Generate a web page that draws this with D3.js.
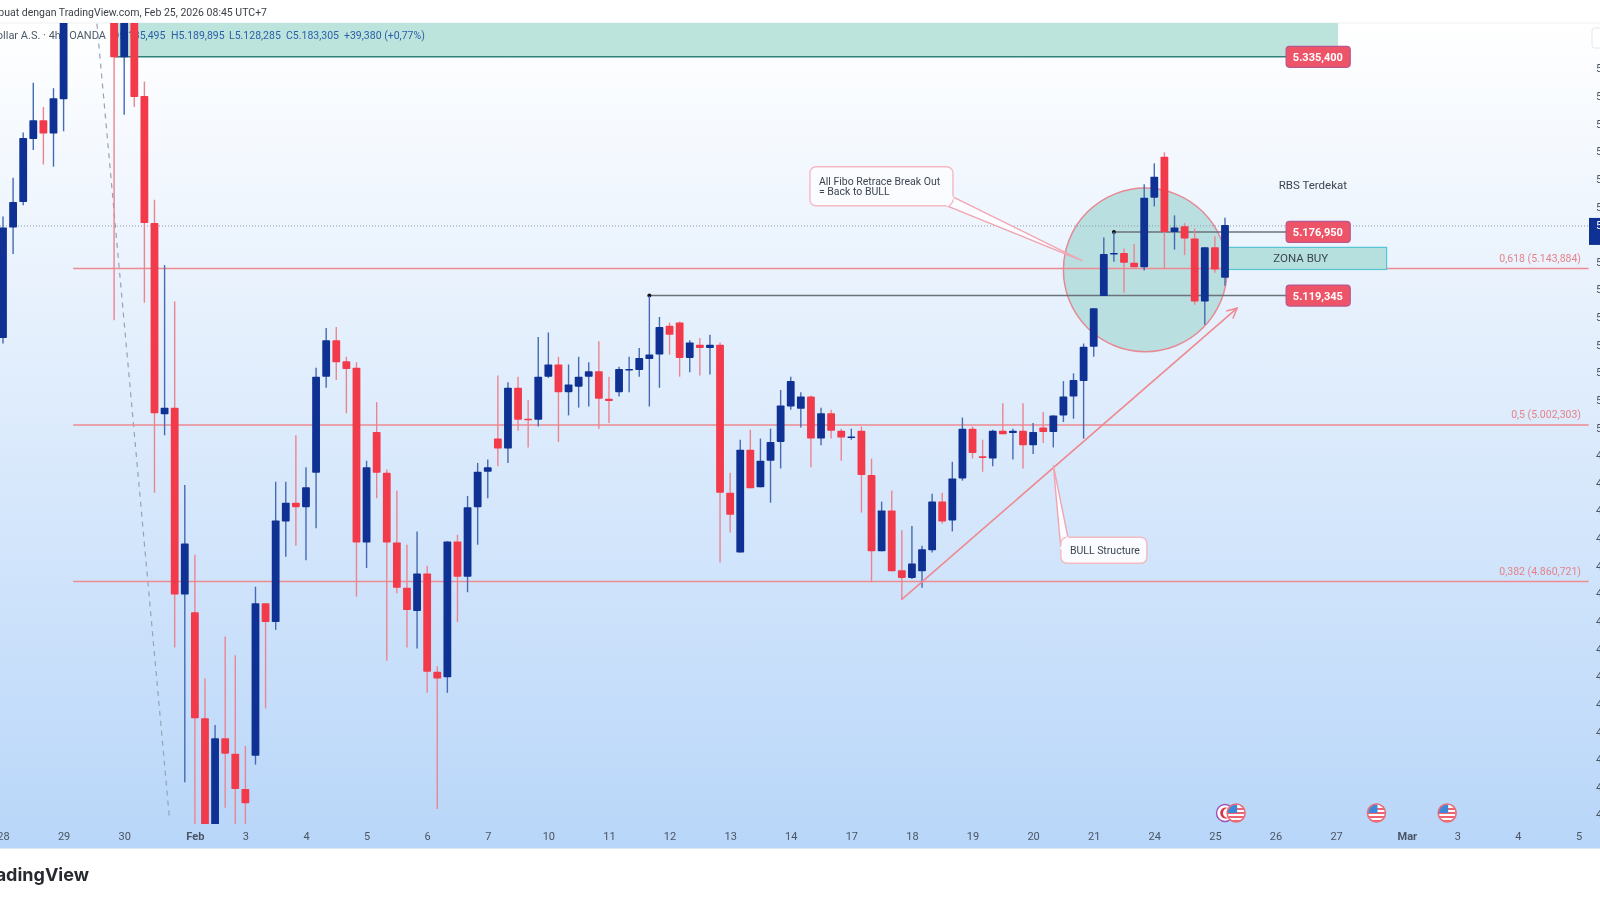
<!DOCTYPE html>
<html>
<head>
<meta charset="utf-8">
<title>Emas / Dollar A.S. 4h</title>
<script src="https://cdn.jsdelivr.net/npm/d3@7"></script>
<style>
html, body { margin: 0; padding: 0; background: #fff; overflow: hidden; }
svg { display: block; font-family: Roboto, "Open Sans", sans-serif; filter: blur(0.4px); }
</style>
</head>
<body>
<div id="app"></div>
<script>
// 4h candles, one entry per bar. Bars 7-10 sit above the visible range.
const opens = [5081,5181,5204,5261,5278,5266,5297,5405,5450,5428,5459,5396,5335,5396,5300,5185,5012,5018,4849,4833,4737,4635,4719,4705,4673,4703,4841,4824,4915,4932,4928,4959,5046,5079,5060,5054,4896,4996,4959,4896,4855,4834,4868,4779,4774,4897,4865,4928,4960,4990,4981,5036,5008,5007,5046,5057,5032,5037,5046,5051,5026,5032,5052,5052,5062,5066,5092,5095,5063,5075,5072,5075,4941,4887,4980,4946,4970,4987,5019,5017,5028,4990,5013,4997,4991,4997,4957,4888,4925,4871,4864,4870,4889,4933,4916,4954,4999,4974,4972,4997,4995,4997,4984,5000,4996,5011,5028,5042,5073,5119,5157,5158,5149,5145,5208,5245,5177,5182,5171,5114,5163,5135.495];
const highs = [5191,5226,5267,5312,5290,5307,5414,5464,5473,5480,5470,5410,5405,5401,5313,5206,5147,5114,4948,4885,4773,4731,4811,4794,4712,4856,4841,4951,4951,4993,4964,5054,5090,5091,5064,5059,4970,5023,4962,4943,4894,4906,4875,4784,4897,4903,4938,4968,4971,5047,5041,5046,5025,5082,5086,5064,5057,5064,5059,5078,5046,5055,5064,5072,5119,5100,5095,5096,5079,5081,5084,5077,4959,4989,4998,4990,4999,5034,5046,5032,5029,5018,5016,4999,4999,5001,4972,4933,4943,4907,4911,4893,4940,4941,4969,5009,5001,4989,4998,5022,4999,5022,5004,5014,5011,5042,5049,5076,5108,5172,5177,5162,5166,5220,5239,5249,5192,5185,5180,5163,5173,5189.895];
const lows = [5076,5157,5201,5251,5238,5236,5268,5396,5414,5415,5390,5097,5283,5290,5113,4941,4993,4801,4679,4635,4631,4631,4656,4635,4635,4695,4746,4817,4883,4893,4880,4909,5036,5043,5013,4847,4873,4936,4789,4850,4801,4800,4760,4655,4760,4824,4851,4894,4936,4965,4968,4997,4982,5001,5045,4987,5011,5018,5019,4999,5004,5028,5032,5046,5019,5036,5066,5046,5050,5047,5048,4878,4905,4887,4945,4946,4932,4963,5016,5000,4964,4984,4990,4970,4989,4923,4860,4888,4870,4844,4863,4855,4887,4913,4906,4952,4972,4960,4965,4994,4971,4963,4976,4986,4982,5005,5008,4990,5064,5119,5150,5122,5145,5142,5200,5144,5161,5156,5111,5093,5140,5128.285];
const closes = [5181,5204,5262,5278,5266,5298,5405,5450,5428,5459,5401,5335,5396,5299,5185,5013,5018,4849,4895,4737,4635,4719,4705,4673,4660,4841,4824,4916,4932,4928,4946,5046,5079,5059,5053,4896,4964,4959,4896,4855,4835,4868,4779,4773,4897,4865,4928,4960,4964,4981,5036,5007,5007,5046,5057,5032,5039,5046,5051,5026,5024,5053,5053,5063,5066,5091,5084,5063,5077,5072,5075,4941,4921,4980,4945,4970,4987,5020,5042,5028,4990,5013,4997,4991,4992,4957,4888,4925,4870,4864,4877,4890,4933,4915,4954,4999,4977,4973,4997,4994,4997,4984,4996,4996,5011,5028,5043,5073,5108,5157,5158,5149,5145,5208,5227,5177,5181,5171,5114,5163,5143,5183.305];

// Time axis, labelled every 6 bars
const tickBars = [0,6,12,19,24,30,36,42,48,54,60,66,72,78,84,90,96,102,108,114,120,126,132,139,144,150,156];
const tickLabels = ["28","29","30","Feb","3","4","5","6","7","10","11","12","13","14","17","18","19","20","21","24","25","26","27","Mar","3","4","5"];
const boldTicks = ["Feb", "Mar"];

// Price axis
const priceTicks = [4650,4675,4700,4725,4750,4775,4800,4825,4850,4875,4900,4925,4950,4975,5000,5025,5050,5075,5100,5125,5150,5200,5225,5250,5275,5300,5325];

// Fibo levels
const fibRatios = ["0,618", "0,5", "0,382"];
const fibPrices = [5143.884, 5002.303, 4860.721];

// Drawings, in bar index and price
const swingLevels = [5335.4, 5176.95, 5119.345];
const swingStartBars = [11, 110, 64];
const trendBars = [89, 122.2];
const trendPrices = [4844.6, 5108];
const fibTrendBars = [9.3, 16.5];
const fibTrendPrices = [5365.3, 4644.4];
const eventBars = [122.1, 136, 143];

const legendParts = ["O5.135,495", "H5.189,895", "L5.128,285", "C5.183,305", "+39,380 (+0,77%)"];
const legendX = [112, 171, 229, 286, 344];

const width = 1600;
const height = 900;
const plotTop = 23;
const plotBottom = 848;
const candleBottom = 824;

const x = d3.scaleLinear().domain([0, 121]).range([3, 1225]);
const y = d3.scaleLinear().domain([5143.884, 4860.721]).range([268.5, 581.5]);

const locale = d3.formatLocale({ decimal: ",", thousands: ".", grouping: [3], currency: ["", ""] });
const fmtPrice = locale.format(",.3f");

const blue = "#0f3193";
const red = "#f23a4b";
const pink = "#ee8a90";
const textGrey = "#4a5563";

const svg = d3.select("#app").append("svg")
    .attr("width", width)
    .attr("height", height)
    .attr("viewBox", [0, 0, width, height]);

const defs = svg.append("defs");

const grad = defs.append("linearGradient")
    .attr("id", "bg")
    .attr("x1", 0).attr("y1", 0).attr("x2", 0).attr("y2", 1);
grad.append("stop").attr("offset", "0%").attr("stop-color", "#ffffff");
grad.append("stop").attr("offset", "100%").attr("stop-color", "#b8d6f9");

defs.append("clipPath").attr("id", "candleClip")
    .append("rect")
    .attr("x", 0).attr("y", plotTop)
    .attr("width", 1589).attr("height", candleBottom - plotTop);

defs.append("marker")
    .attr("id", "arrow")
    .attr("viewBox", "-12 -7 14 14")
    .attr("refX", 0)
    .attr("refY", 0)
    .attr("markerUnits", "userSpaceOnUse")
    .attr("markerWidth", 14)
    .attr("markerHeight", 14)
    .attr("orient", "auto")
    .append("path")
    .attr("d", "M-10,-5L0,0L-10,5")
    .attr("fill", "none")
    .attr("stroke", pink)
    .attr("stroke-width", 1.5);

// --- Background ---

svg.append("rect")
    .attr("x", 0).attr("y", plotTop)
    .attr("width", width).attr("height", plotBottom - plotTop)
    .attr("fill", "url(#bg)");

svg.append("line")
    .attr("x1", 0).attr("x2", width)
    .attr("y1", plotTop).attr("y2", plotTop)
    .attr("stroke", "#eceff3");

// --- Resistance box at the top ---

svg.append("rect")
    .attr("x", x(11)).attr("y", plotTop)
    .attr("width", x(132.2) - x(11))
    .attr("height", y(swingLevels[0]) - plotTop)
    .attr("fill", "#bce3dc");

svg.append("line")
    .attr("x1", x(11)).attr("x2", x(132.2))
    .attr("y1", y(swingLevels[0])).attr("y2", y(swingLevels[0]))
    .attr("stroke", "#2f7f7a")
    .attr("stroke-width", 1.5);

// --- Header and legend ---

svg.append("text")
    .attr("x", 267).attr("y", 16)
    .attr("text-anchor", "end")
    .attr("font-size", 10.5)
    .attr("fill", "#3a3f47")
    .text("Dibuat dengan TradingView.com, Feb 25, 2026 08:45 UTC+7");

svg.append("text")
    .attr("x", 106).attr("y", 39)
    .attr("text-anchor", "end")
    .attr("font-size", 11)
    .attr("fill", "#4d5a68")
    .text("Emas / Dollar A.S. · 4h · OANDA");

svg.append("g").selectAll("text")
    .data(legendParts)
    .join("text")
    .attr("x", (d, i) => legendX[i])
    .attr("y", 39)
    .attr("font-size", 10.5)
    .attr("fill", "#2b5fa8")
    .text(d => d);

// --- Drawings below the candles ---

svg.append("circle")
    .attr("cx", x(113.1))
    .attr("cy", y(5142.6))
    .attr("r", x(121.2) - x(113.1))
    .attr("fill", "#b9dfe1")
    .attr("stroke", "#e58a94")
    .attr("stroke-width", 1.5);

svg.append("line")
    .attr("x1", 0).attr("x2", 1589)
    .attr("y1", y(closes[121]) + 1).attr("y2", y(closes[121]) + 1)
    .attr("stroke", "#8c97a8")
    .attr("stroke-dasharray", "1 2");

svg.append("line")
    .attr("x1", x(fibTrendBars[0])).attr("y1", y(fibTrendPrices[0]))
    .attr("x2", x(fibTrendBars[1])).attr("y2", y(fibTrendPrices[1]))
    .attr("stroke", "#97a3b3")
    .attr("stroke-width", 1.2)
    .attr("stroke-dasharray", "5 5");

const fib = svg.append("g").selectAll("g")
    .data(fibPrices)
    .join("g");

fib.append("line")
    .attr("x1", x(6.95)).attr("x2", x(157))
    .attr("y1", d => y(d)).attr("y2", d => y(d))
    .attr("stroke", pink)
    .attr("stroke-width", 1.3);

fib.append("text")
    .attr("x", 1581)
    .attr("y", d => y(d) - 7)
    .attr("text-anchor", "end")
    .attr("font-size", 10.5)
    .attr("fill", "#e58389")
    .text((d, i) => `${fibRatios[i]} (${fmtPrice(d)})`);

// ZONA BUY
svg.append("rect")
    .attr("x", x(121)).attr("y", y(5163))
    .attr("width", x(137) - x(121))
    .attr("height", y(5143) - y(5163))
    .attr("fill", "#b6e0de")
    .attr("stroke", "#55c4d4")
    .attr("stroke-width", 1.2);

// Swing lines, first one is drawn with the box above
svg.append("g").selectAll("line")
    .data(swingLevels.slice(1))
    .join("line")
    .attr("x1", (d, i) => x(swingStartBars[i + 1]))
    .attr("x2", x(127.5))
    .attr("y1", d => y(d)).attr("y2", d => y(d))
    .attr("stroke", "#6b7278")
    .attr("stroke-width", 1.5);

svg.append("g").selectAll("circle")
    .data(swingLevels.slice(1))
    .join("circle")
    .attr("cx", (d, i) => x(swingStartBars[i + 1]))
    .attr("cy", d => y(d))
    .attr("r", 2)
    .attr("fill", "#111");

// --- Candles ---

const bars = d3.range(opens.length).map(i => ({
    i: i, o: opens[i], h: highs[i], l: lows[i], c: closes[i]
}));

const candle = svg.append("g")
    .attr("clip-path", "url(#candleClip)")
    .selectAll("g")
    .data(bars)
    .join("g");

candle.append("line")
    .attr("x1", d => x(d.i)).attr("x2", d => x(d.i))
    .attr("y1", d => y(d.h)).attr("y2", d => y(d.l))
    .attr("stroke", d => d.c >= d.o ? "#466ab4" : "#ec8490")
    .attr("stroke-width", 1.4);

candle.append("rect")
    .attr("x", d => x(d.i) - 3.9)
    .attr("width", 7.8)
    .attr("y", d => y(Math.max(d.o, d.c)))
    .attr("height", d => Math.max(1.6, Math.abs(y(d.o) - y(d.c))))
    .attr("rx", 0.8)
    .attr("fill", d => d.c >= d.o ? blue : red);

// --- Drawings over the candles ---

svg.append("line")
    .attr("x1", x(trendBars[0])).attr("y1", y(trendPrices[0]))
    .attr("x2", x(trendBars[1])).attr("y2", y(trendPrices[1]))
    .attr("stroke", pink)
    .attr("stroke-width", 1.6)
    .attr("marker-end", "url(#arrow)");

function callout(bar, price, w, h, tipBar, tipPrice, baseA, baseB, lines) {
    const bx = x(bar);
    const by = y(price);
    const g = svg.append("g");
    g.append("path")
        .attr("d", d3.line()([baseA.map((v, i) => v + [bx, by][i]), [x(tipBar), y(tipPrice)], baseB.map((v, i) => v + [bx, by][i])]))
        .attr("fill", "#fbfcff")
        .attr("stroke", "#f0a5b0")
        .attr("stroke-width", 1.4);
    g.append("rect")
        .attr("x", bx).attr("y", by)
        .attr("width", w).attr("height", h)
        .attr("rx", 6)
        .attr("fill", "#fbfcff")
        .attr("stroke", "#f4b9c3")
        .attr("stroke-width", 1.4);
    // hide the box edge where the pointer joins
    g.append("path")
        .attr("d", d3.line()([baseA.map((v, i) => v + [bx, by][i]), baseB.map((v, i) => v + [bx, by][i])]))
        .attr("stroke", "#fbfcff")
        .attr("stroke-width", 2.5);
    g.selectAll("text")
        .data(lines)
        .join("text")
        .attr("x", bx + 9)
        .attr("y", (d, i) => by + (lines.length > 1 ? 18 + i * 10 : 17))
        .attr("font-size", 10.5)
        .attr("fill", "#3c4652")
        .text(d => d);
}

callout(79.9, 5235.9, 143, 39, 106.9, 5150.7, [137, 39], [143, 30],
    ["All Fibo Retrace Break Out", "= Back to BULL"]);
callout(104.75, 4900.8, 86, 26, 104, 4966, [0, 12], [7, 0],
    ["BULL Structure"]);

svg.append("text")
    .attr("x", x(129.7)).attr("y", y(5219.5) + 4)
    .attr("text-anchor", "middle")
    .attr("font-size", 11.5)
    .attr("fill", "#3c4652")
    .text("RBS Terdekat");

svg.append("text")
    .attr("x", x(128.5)).attr("y", y(5153) + 4)
    .attr("text-anchor", "middle")
    .attr("font-size", 11.5)
    .attr("fill", "#3c4652")
    .text("ZONA BUY");

const priceTag = svg.append("g").selectAll("g")
    .data(swingLevels)
    .join("g");

priceTag.append("rect")
    .attr("x", x(127.05))
    .attr("width", x(133.4) - x(127.05))
    .attr("y", d => y(d) - 10.5)
    .attr("height", 21)
    .attr("rx", 3.5)
    .attr("fill", "#ee5468")
    .attr("stroke", "#b9558f")
    .attr("stroke-width", 1.2);

priceTag.append("text")
    .attr("x", x(130.2))
    .attr("y", d => y(d) + 4)
    .attr("text-anchor", "middle")
    .attr("font-size", 11)
    .attr("font-weight", 700)
    .attr("fill", "#fff")
    .text(d => fmtPrice(d));

// --- Axes ---

const xAxis = svg.append("g")
    .attr("transform", `translate(0,836)`)
    .call(d3.axisBottom(x).tickValues(tickBars).tickFormat((d, i) => tickLabels[i]).tickSize(0).tickPadding(0));
xAxis.select(".domain").remove();
xAxis.selectAll("text")
    .attr("dy", "0.35em")
    .attr("y", 0)
    .attr("font-family", "Roboto, sans-serif")
    .attr("font-size", 11)
    .attr("font-weight", d => boldTicks.includes(tickLabels[tickBars.indexOf(d)]) ? 700 : 400)
    .attr("fill", textGrey);

const yAxis = svg.append("g")
    .attr("transform", "translate(1596,0)")
    .call(d3.axisRight(y).tickValues(priceTicks).tickFormat(fmtPrice).tickSize(0).tickPadding(0));
yAxis.select(".domain").remove();
yAxis.selectAll("text")
    .attr("font-family", "Roboto, sans-serif")
    .attr("font-size", 11)
    .attr("fill", textGrey);

// last price tag, cut by the page edge
svg.append("rect")
    .attr("x", 1589).attr("y", y(closes[121]) - 7)
    .attr("width", 11).attr("height", 27)
    .attr("fill", blue);
svg.append("text")
    .attr("x", 1596).attr("y", y(closes[121]) + 4)
    .attr("font-size", 11)
    .attr("fill", "#fff")
    .text(fmtPrice(closes[121]));

// scale button in the top right corner
svg.append("rect")
    .attr("x", 1592).attr("y", 28)
    .attr("width", 16).attr("height", 20)
    .attr("rx", 3)
    .attr("fill", "#fff")
    .attr("stroke", "#e4e8ee");

// --- Event icons ---

const eventY = 813;

const crescent = svg.append("g").attr("transform", `translate(${x(121)},${eventY})`);
crescent.append("circle")
    .attr("r", 8.5)
    .attr("fill", "#fff")
    .attr("stroke", "#9a52b4")
    .attr("stroke-width", 1.4);
crescent.append("path")
    .attr("d", "M3,-5A5.5,5.5 0 1,0 3,5A4.5,4.5 0 1,1 3,-5Z")
    .attr("fill", "#d8344a");

defs.append("clipPath").attr("id", "flagClip")
    .append("circle").attr("r", 8.5);

const flag = svg.append("g").selectAll("g")
    .data(eventBars)
    .join("g")
    .attr("transform", d => `translate(${x(d)},${eventY})`);

const flagInner = flag.append("g").attr("clip-path", "url(#flagClip)");
flagInner.append("rect")
    .attr("x", -9).attr("y", -9).attr("width", 18).attr("height", 18)
    .attr("fill", "#fff");
flagInner.selectAll(".stripe")
    .data([-5, -1, 3, 7])
    .join("rect")
    .attr("class", "stripe")
    .attr("x", -9).attr("width", 18)
    .attr("y", d => d).attr("height", 2)
    .attr("fill", "#ef6272");
flagInner.append("rect")
    .attr("x", -9).attr("y", -9).attr("width", 10).attr("height", 9)
    .attr("fill", "#3d87d9");

flag.append("circle")
    .attr("r", 9)
    .attr("fill", "none")
    .attr("stroke", "#ea6a76")
    .attr("stroke-width", 1.5);

// --- Footer ---

svg.append("rect")
    .attr("x", 0).attr("y", plotBottom)
    .attr("width", width).attr("height", 1)
    .attr("fill", "#dfe7f2");

svg.append("text")
    .attr("x", 89).attr("y", 881)
    .attr("text-anchor", "end")
    .attr("font-family", "Inter, Roboto, sans-serif")
    .attr("font-size", 18)
    .attr("font-weight", 700)
    .attr("fill", "#262a30")
    .text("TradingView");
</script>
</body>
</html>
